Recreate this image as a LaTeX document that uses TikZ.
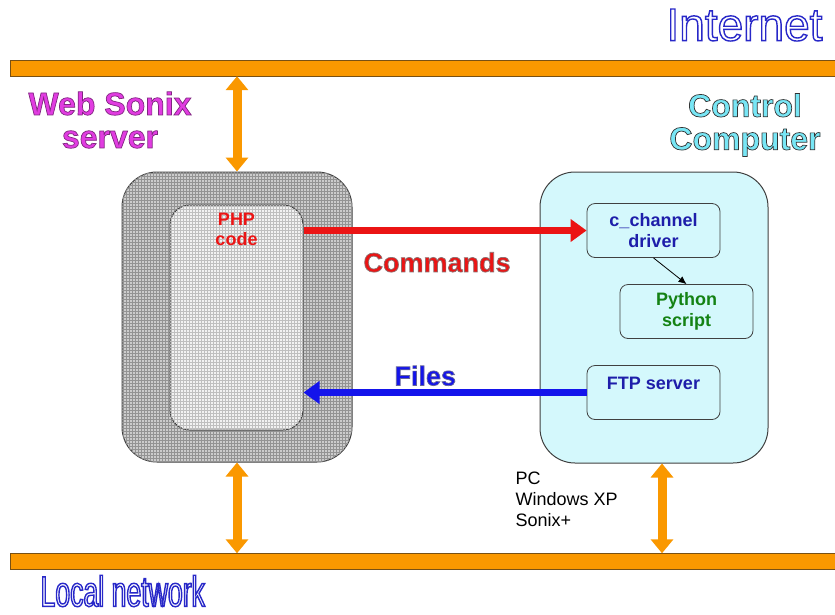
\documentclass[tikz,border=0pt]{standalone}
\usepackage{fontspec}
\setmainfont{Liberation Sans}
\newfontfamily\narrowfont[FakeStretch=0.62]{Liberation Sans}
\usetikzlibrary{positioning}
\usetikzlibrary{arrows.meta}
\usetikzlibrary{patterns}

\definecolor{netorange}{RGB}{250,152,0}
\definecolor{netedge}{RGB}{120,80,20}
\definecolor{pccyan}{RGB}{212,248,252}
\definecolor{labelblue}{RGB}{40,40,200}
\definecolor{procblue}{RGB}{30,30,170}
\definecolor{pygreen}{RGB}{20,130,20}
\definecolor{cmdred}{RGB}{235,20,20}
\definecolor{filesblue}{RGB}{20,20,235}
\definecolor{webmagenta}{RGB}{225,60,225}
\definecolor{ctrlcyan}{RGB}{120,230,245}

% outlined (stroked, not filled) text
\newcommand{\outlined}[1]{\special{pdf:literal direct 1.4 w 1 Tr}#1\special{pdf:literal direct 0 Tr}}
% filled text with a dark edge: #1 = stroke rgb
\newcommand{\edged}[2]{\special{pdf:literal direct #1 RG 0.7 w 2 Tr}#2\special{pdf:literal direct 0 Tr}}

\begin{document}
\begin{tikzpicture}[ x = 1pt, y = -1pt
                   , font = \fontsize{18}{21}\selectfont\bfseries
                   , >={Latex[width=7pt, length=8pt]}
                   , every node/.style = { align = center }
                   ]
  \useasboundingbox (0,0) rectangle (835,614);

  %%
  %% Nodes
  %%
  \tikzset{ bar/.style={rectangle, draw=netedge, fill=netorange, inner sep=0pt
                       , minimum width=825pt, minimum height=16pt}
          , host/.style={rectangle, rounded corners=35pt, draw=black!75
                        , line width=1pt, inner sep=0pt}
          , serverbox/.style={host, fill=gray!40
                             , postaction={pattern=grid, pattern color=gray!85}}
          , phpbox/.style={host, rounded corners=20pt, fill=gray!10
                          , postaction={pattern=grid, pattern color=gray!50}}
          , pcbox/.style={host, fill=pccyan}
          , proc/.style={rectangle, rounded corners=8pt, draw=black!75, line width=0.8pt
                        , inner sep=0pt, minimum width=133pt, minimum height=54pt}
          }

  \node (topbar) [bar] at (422.5,68) {};
  \node (botbar) [bar] at (422.5,561.5) {};
  \node (server) [serverbox, minimum width=230pt, minimum height=290pt] at (237,317) {};
  \node (php) [phpbox, minimum width=133pt, minimum height=225pt] at (236.5,317.5) {};
  \node (phptext) [below = 5pt of php.north, text=cmdred
                  , font=\fontsize{18}{20}\selectfont\bfseries] {PHP\\code};
  \node (pc) [pcbox, minimum width=228pt, minimum height=291pt] at (654,317.5) {};
  \node (chan) [proc, text=procblue] at (653.5,230.5) {c\_channel\\driver};
  \node (python) [proc, text=pygreen] at (686.5,311.5) {Python\\script};
  \node (ftp) [proc, text=procblue, text depth=18pt] at (653.5,392.5) {FTP server};
  \coordinate (pcport) at ([xshift=8pt]pc.south);

  % labels
  \node (inet) [anchor=east, text=labelblue, font=\fontsize{46}{46}\selectfont]
        at (826,25) {\outlined{Internet}};
  \node (lan) [anchor=west, text=labelblue, font=\fontsize{43}{43}\selectfont\narrowfont]
        at (37,591) {\outlined{Local network}};
  \node (weblabel) [text=webmagenta, font=\fontsize{32}{33}\selectfont\bfseries] at (110,120)
        {\edged{0.5 0.15 0.5}{Web Sonix}\\ \edged{0.5 0.15 0.5}{server}};
  \node (ctrllabel) [text=ctrlcyan, font=\fontsize{32}{33}\selectfont\bfseries] at (745,125)
        {\edged{0.2 0.2 0.2}{Control}\\ \edged{0.2 0.2 0.2}{Computer}};
  \node (pcinfo) [anchor=north west, align=left
                 , font=\fontsize{18}{21}\selectfont] at (512,468)
        {PC\\Windows XP\\Sonix+};

  %%
  %% Connections
  %%
  \tikzset{ net/.style={line width=9pt, draw=netorange
                       , {Triangle[length=14pt, width=22pt]}-{Triangle[length=14pt, width=22pt]}}
          , flow/.style={line width=7pt, -{Triangle[length=16pt, width=22pt]}}
          }
  % network links
  \draw [net] (server.north) -- (topbar.south -| server.north);
  \draw [net] (server.south) -- (botbar.north -| server.south);
  \draw [net] (pcport) -- (botbar.north -| pcport);
  % data flow
  \draw [flow, draw=cmdred] (php.east |- chan.west) -- node[below=15pt, xshift=-8pt
        , text=cmdred, font=\fontsize{27}{27}\selectfont\bfseries]
        {\edged{0.55 0.45 0.45}{Commands}} (chan.west);
  \draw [flow, draw=filesblue] (ftp.west) -- node[above=0pt
        , text=filesblue, font=\fontsize{27}{27}\selectfont\bfseries, pos=0.57]
        {\edged{0.4 0.4 0.6}{Files}} (php.east |- ftp.west);
  \draw [->, thick] (chan.south) -- (python.north);
\end{tikzpicture}
\end{document}
